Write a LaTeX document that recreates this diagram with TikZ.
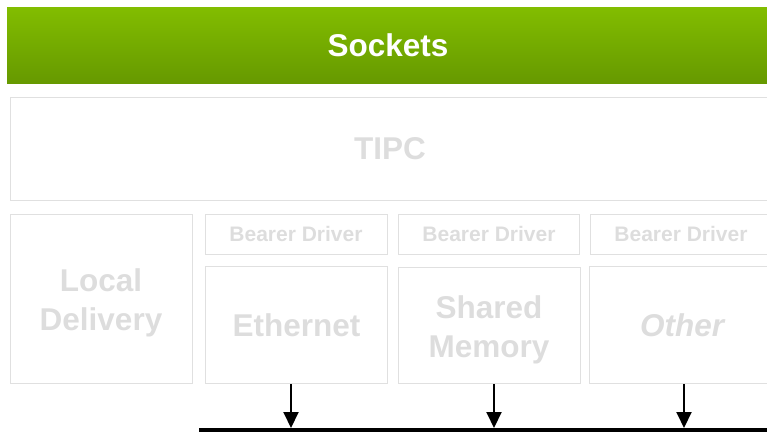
\documentclass[tikz,border=0pt]{standalone}
\usepackage{fontspec}
\setmainfont{Liberation Sans}
\usetikzlibrary{arrows.meta}
\definecolor{sockTop}{HTML}{82BD00}
\definecolor{sockBot}{HTML}{669900}
\definecolor{paleLine}{HTML}{E0E0E0}
\definecolor{paleText}{HTML}{DDDDDD}
\tikzstyle{blk}=[rectangle,draw=paleLine,line width=1pt,text=paleText,align=center,inner sep=0pt]
\tikzstyle{big}=[font=\fontsize{31.5}{39}\selectfont\bfseries]
\tikzstyle{small}=[font=\fontsize{21}{24}\selectfont\bfseries]
\tikzstyle{down}=[-{Triangle[length=16pt,width=15pt]},line width=2pt]

\begin{document}
\begin{tikzpicture}[x=1pt,y=-1pt]
\useasboundingbox (0,0) rectangle (767,433);
\clip (0,0) rectangle (767,433);
% top layer
\node[rectangle,top color=sockTop,bottom color=sockBot,
  minimum width=780pt,minimum height=76pt,anchor=north west] (sockets) at (7,7) {};
\node[text=white,big] (sockLbl) at (388,45) {Sockets};
\node[blk,minimum width=780pt,minimum height=103pt,anchor=north west] (tipc) at (10,97) {};
\node[text=paleText,big] (tipcLbl) at (390,149) {TIPC};
% local delivery and bearers
\node[blk,minimum width=182pt,minimum height=169pt,anchor=north west] (local) at (10,214) {};
\node[text=paleText,big,align=center] (localLbl) at (101,302.5) {Local\\Delivery};
\node[blk,minimum width=182pt,minimum height=40pt,anchor=north west] (bd1) at (205,214) {};
\node[text=paleText,small] (bd1Lbl) at (296,234) {Bearer Driver};
\node[blk,minimum width=181pt,minimum height=40pt,anchor=north west] (bd2) at (398,214) {};
\node[text=paleText,small] (bd2Lbl) at (489,234) {Bearer Driver};
\node[blk,minimum width=190pt,minimum height=40pt,anchor=north west] (bd3) at (590,214) {};
\node[text=paleText,small] (bd3Lbl) at (681,234) {Bearer Driver};
\node[blk,big,minimum width=182pt,minimum height=117pt,anchor=north west] (eth) at (205,266) {Ethernet};
\node[blk,minimum width=182pt,minimum height=116pt,anchor=north west] (shm) at (398,267) {};
\node[text=paleText,big,align=center] (shmLbl) at (489,329.5) {Shared\\Memory};
\node[blk,minimum width=190pt,minimum height=117pt,anchor=north west] (other) at (589,266) {};
\node[text=paleText,big] (otherLbl) at (682,325) {\itshape Other};
% bus
\coordinate (busL) at (199,430);
\coordinate (busR) at (780,430);
\draw[line width=4pt] (busL) -- (busR);
\coordinate (t1) at (291,428);
\coordinate (t2) at (494,428);
\coordinate (t3) at (684,428);
\draw[down] (eth.south -| t1) -- (t1);
\draw[down] (shm.south -| t2) -- (t2);
\draw[down] (other.south -| t3) -- (t3);
\end{tikzpicture}
\end{document}
